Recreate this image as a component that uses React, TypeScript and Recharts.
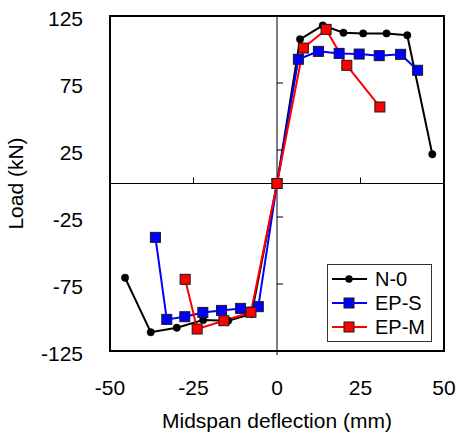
import React from 'react';
import { ComposedChart, Line, XAxis, YAxis, ReferenceLine, ReferenceArea, Legend, Label } from 'recharts';

const FONT = '"Liberation Sans", Arial, sans-serif';

const xTicks = [-50, -25, 0, 25, 50];
const yTicks = [-125, -75, -25, 25, 75, 125];

const n0X = [-45.5, -37.8, -30.0, -22.1, -14.6, -7.6, 0, 6.9, 13.7, 19.9, 25.8, 32.8, 39.0, 46.5];
const n0Y = [-70.3, -111.0, -107.6, -101.9, -102.4, -97.4, 0, 107.6, 118.0, 112.5, 112.0, 112.0, 110.6, 21.8];

const epsX = [-36.4, -33.0, -27.6, -22.2, -16.6, -10.9, -5.6, 0, 6.4, 12.4, 18.6, 24.6, 30.6, 37.0, 42.1];
const epsY = [-40.2, -101.4, -99.4, -96.2, -94.7, -93.2, -91.9, 0, 92.7, 98.6, 97.1, 96.6, 95.4, 96.4, 84.5];

const epmX = [-27.5, -23.9, -15.9, -7.8, 0, 7.9, 14.7, 20.9, 30.8];
const epmY = [-71.5, -108.6, -102.4, -96.1, 0, 101.1, 115.0, 88.2, 57.1];

const seriesNames = ['N-0', 'EP-S', 'EP-M'];
const seriesColors = ['#000000', '#0000FF', '#FF0000'];

const toData = (xs: number[], ys: number[]) => xs.map((x, i) => ({ x, y: ys[i] }));
const n0Data = toData(n0X, n0Y);
const epsData = toData(epsX, epsY);
const epmData = toData(epmX, epmY);

const circleDot = (color: string) => (props: any) => {
  const { cx, cy, index } = props;
  if (cx == null || cy == null) return <g key={`c${index}`} />;
  return <circle key={`c${index}`} cx={cx} cy={cy} r={3.7} fill={color} stroke={color} strokeWidth={0.5} />;
};

const squareDot = (color: string) => (props: any) => {
  const { cx, cy, index } = props;
  if (cx == null || cy == null) return <g key={`s${index}`} />;
  return <rect key={`s${index}`} x={cx - 5} y={cy - 5} width={10} height={10} fill={color} stroke="#1a1a1a" strokeWidth={1} />;
};

const renderLegend = () => (
  <div
    style={{
      width: 105,
      height: 78,
      boxSizing: 'border-box',
      border: '1px solid #333',
      background: '#fff',
      paddingTop: 2,
      fontFamily: FONT,
    }}
  >
    {seriesNames.map((name, i) => (
      <div key={name} style={{ display: 'flex', alignItems: 'center', height: 24 }}>
        <svg width={47} height={24} style={{ display: 'block' }}>
          <line x1={4} y1={12} x2={39} y2={12} stroke={seriesColors[i]} strokeWidth={2} />
          {i === 0 ? (
            <circle cx={21} cy={12} r={3.7} fill={seriesColors[i]} />
          ) : (
            <rect x={16} y={7} width={10} height={10} fill={seriesColors[i]} stroke="#1a1a1a" strokeWidth={1} />
          )}
        </svg>
        <span style={{ fontSize: 20, lineHeight: '24px', color: '#000' }}>{name}</span>
      </div>
    ))}
  </div>
);

const xTickMarks = xTicks.filter((t) => t !== 0 && Math.abs(t) < 50);
const yTickMarks = yTicks.filter((t) => t !== 0 && Math.abs(t) < 125);

export default function App() {
  return (
    <div style={{ position: 'absolute', left: 0, top: 0, width: 460, height: 435 }}>
      <ComposedChart
        width={460}
        height={435}
        margin={{ top: 16, right: 16, left: 0, bottom: 0 }}
        style={{ fontFamily: FONT }}
      >
        <XAxis
          type="number"
          dataKey="x"
          domain={[-50, 50]}
          ticks={xTicks}
          interval={0}
          allowDataOverflow
          axisLine={false}
          tickLine={false}
          tickSize={0}
          tickMargin={29}
          height={84}
          tick={{ fontSize: 21, fill: '#000', fontFamily: FONT }}
        >
          <Label
            value="Midspan deflection (mm)"
            position="insideBottom"
            offset={7}
            style={{ fontSize: 21, fill: '#000', fontFamily: FONT }}
          />
        </XAxis>
        <YAxis
          type="number"
          dataKey="y"
          domain={[-125, 125]}
          ticks={yTicks}
          interval={0}
          allowDataOverflow
          axisLine={false}
          tickLine={false}
          tickSize={0}
          tickMargin={27}
          width={110}
          tick={{ fontSize: 21, fill: '#000', fontFamily: FONT, dy: 3 }}
        >
          <Label
            value="Load (kN)"
            angle={-90}
            position="insideLeft"
            offset={16}
            style={{ fontSize: 21, fill: '#000', fontFamily: FONT, textAnchor: 'middle' }}
          />
        </YAxis>
        <ReferenceArea
          x1={-50}
          x2={50}
          y1={-125}
          y2={125}
          fill="none"
          fillOpacity={0}
          stroke="#000"
          strokeWidth={2}
          ifOverflow="visible"
        />
        <ReferenceLine x={0} stroke="#000" strokeWidth={1} />
        <ReferenceLine y={0} stroke="#000" strokeWidth={1} />
        <ReferenceLine
          segment={[{ x: 0, y: -125 }, { x: 0, y: -128 }]}
          stroke="#000"
          strokeWidth={1}
          ifOverflow="visible"
        />
        {xTickMarks.map((t) => (
          <ReferenceLine
            key={`xt${t}`}
            segment={[{ x: t, y: 0 }, { x: t, y: 4.5 }]}
            stroke="#000"
            strokeWidth={1}
          />
        ))}
        {yTickMarks.map((t) => (
          <ReferenceLine
            key={`yt${t}`}
            segment={[{ x: 0, y: t }, { x: 1.8, y: t }]}
            stroke="#000"
            strokeWidth={1}
          />
        ))}
        <Line
          data={n0Data}
          dataKey="y"
          name={seriesNames[0]}
          type="linear"
          stroke={seriesColors[0]}
          strokeWidth={2}
          dot={circleDot(seriesColors[0])}
          activeDot={false}
          isAnimationActive={false}
        />
        <Line
          data={epsData}
          dataKey="y"
          name={seriesNames[1]}
          type="linear"
          stroke={seriesColors[1]}
          strokeWidth={2}
          dot={squareDot(seriesColors[1])}
          activeDot={false}
          isAnimationActive={false}
        />
        <Line
          data={epmData}
          dataKey="y"
          name={seriesNames[2]}
          type="linear"
          stroke={seriesColors[2]}
          strokeWidth={2}
          dot={squareDot(seriesColors[2])}
          activeDot={false}
          isAnimationActive={false}
        />
        <Legend
          layout="vertical"
          align="center"
          verticalAlign="middle"
          wrapperStyle={{ left: 327, top: 264, width: 105, height: 78 }}
          content={renderLegend}
        />
      </ComposedChart>
    </div>
  );
}
